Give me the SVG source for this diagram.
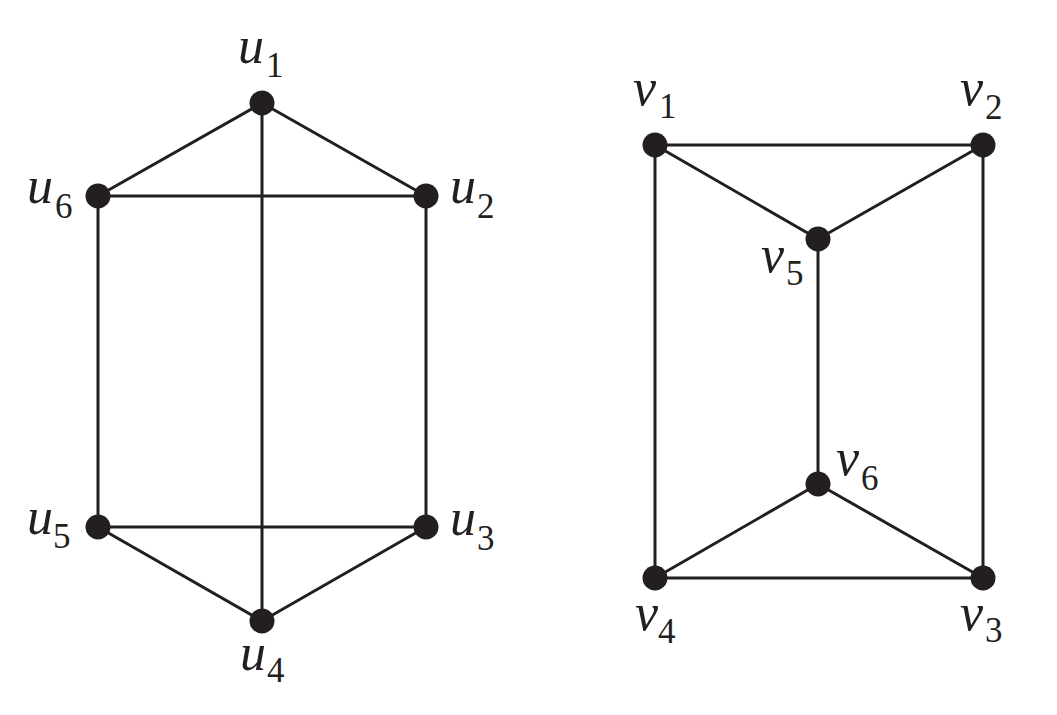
<svg xmlns="http://www.w3.org/2000/svg" width="1057" height="715" viewBox="0 0 1057 715">
<style>
.e{stroke:#231f20;stroke-width:3;fill:none;stroke-linecap:round}
.n{fill:#231f20}
.l{font-family:"Liberation Serif",serif;font-style:italic;font-size:52px;fill:#231f20}
.s{font-family:"Liberation Serif",serif;font-size:35px;fill:#231f20}
</style>
<rect width="1057" height="715" fill="#fff"/>
<g id="edges">
<line class="e" x1="262" y1="103" x2="98" y2="196"/>
<line class="e" x1="262" y1="103" x2="426" y2="196"/>
<line class="e" x1="262" y1="103" x2="262" y2="621"/>
<line class="e" x1="98" y1="196" x2="426" y2="196"/>
<line class="e" x1="98" y1="196" x2="98" y2="527"/>
<line class="e" x1="426" y1="196" x2="426" y2="527"/>
<line class="e" x1="98" y1="527" x2="426" y2="527"/>
<line class="e" x1="98" y1="527" x2="262" y2="621"/>
<line class="e" x1="426" y1="527" x2="262" y2="621"/>
<line class="e" x1="655" y1="145" x2="983" y2="145"/>
<line class="e" x1="655" y1="145" x2="818" y2="239"/>
<line class="e" x1="983" y1="145" x2="818" y2="239"/>
<line class="e" x1="655" y1="145" x2="655" y2="578"/>
<line class="e" x1="983" y1="145" x2="983" y2="578"/>
<line class="e" x1="818" y1="239" x2="818" y2="484"/>
<line class="e" x1="818" y1="484" x2="655" y2="578"/>
<line class="e" x1="818" y1="484" x2="983" y2="578"/>
<line class="e" x1="655" y1="578" x2="983" y2="578"/>
</g>
<g id="u1"><circle class="n" cx="262" cy="103" r="12.5"/><text class="l" x="238" y="63">u</text><text class="s" x="266" y="77">1</text></g>
<g id="u2"><circle class="n" cx="426" cy="196" r="12.5"/><text class="l" x="450" y="203">u</text><text class="s" x="477" y="218">2</text></g>
<g id="u3"><circle class="n" cx="426" cy="527" r="12.5"/><text class="l" x="450" y="535">u</text><text class="s" x="477" y="550">3</text></g>
<g id="u4"><circle class="n" cx="262" cy="621" r="12.5"/><text class="l" x="240" y="670">u</text><text class="s" x="267" y="682">4</text></g>
<g id="u5"><circle class="n" cx="98" cy="527" r="12.5"/><text class="l" x="27" y="534">u</text><text class="s" x="53" y="548">5</text></g>
<g id="u6"><circle class="n" cx="98" cy="196" r="12.5"/><text class="l" x="27" y="203">u</text><text class="s" x="55" y="218">6</text></g>
<g id="v1"><circle class="n" cx="655" cy="145" r="12.5"/><text class="l" x="633" y="105">v</text><text class="s" x="659" y="118">1</text></g>
<g id="v2"><circle class="n" cx="983" cy="145" r="12.5"/><text class="l" x="960" y="105">v</text><text class="s" x="985" y="119">2</text></g>
<g id="v3"><circle class="n" cx="983" cy="578" r="12.5"/><text class="l" x="960" y="630">v</text><text class="s" x="985" y="642">3</text></g>
<g id="v4"><circle class="n" cx="655" cy="578" r="12.5"/><text class="l" x="635" y="630">v</text><text class="s" x="658" y="643">4</text></g>
<g id="v5"><circle class="n" cx="818" cy="239" r="12.5"/><text class="l" x="761" y="272">v</text><text class="s" x="786" y="285">5</text></g>
<g id="v6"><circle class="n" cx="818" cy="484" r="12.5"/><text class="l" x="836" y="475">v</text><text class="s" x="861" y="490">6</text></g>
</svg>
